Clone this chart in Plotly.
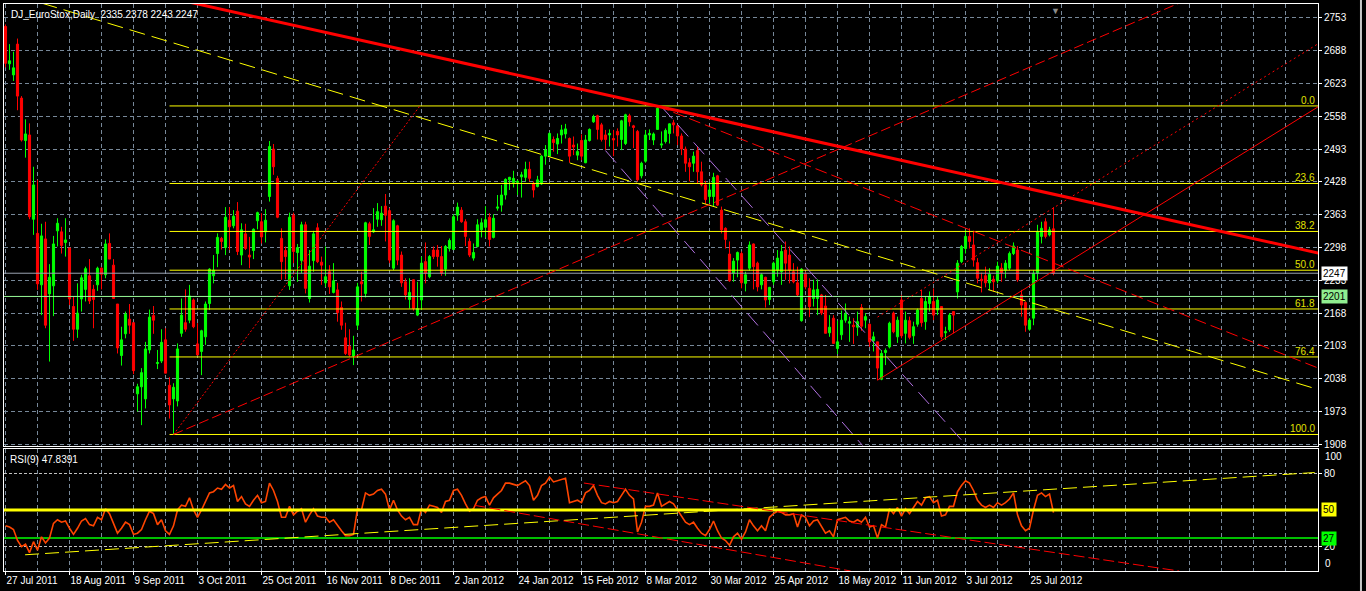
import plotly.graph_objects as go

# 1. daily OHLC (DJ_EuroStox, 27 Jul 2011 .. 26 Jul 2012), one entry per bar
open_ = [2736, 2662, 2640, 2701, 2594, 2510, 2521, 2354, 2326, 2224,
         2315, 2206, 2222, 2331, 2329, 2308, 2297, 2181, 2136, 2196,
         2215, 2242, 2215, 2224, 2257, 2244, 2306, 2263, 2186, 2084,
         2127, 2156, 2149, 2008, 2022, 1998, 2095, 2163, 2068, 2073,
         2115, 2025, 1998, 1994, 2128, 2149, 2154, 2194, 2107, 2092,
         2121, 2187, 2242, 2286, 2316, 2298, 2352, 2341, 2370, 2283,
         2325, 2283, 2292, 2351, 2349, 2329, 2399, 2493, 2435, 2316,
         2292, 2222, 2362, 2288, 2272, 2343, 2197, 2272, 2337, 2269,
         2228, 2250, 2209, 2214, 2179, 2119, 2102, 2083, 2144, 2230,
         2207, 2345, 2329, 2354, 2353, 2380, 2371, 2257, 2341, 2283,
         2230, 2195, 2234, 2164, 2194, 2270, 2240, 2293, 2293, 2280,
         2255, 2296, 2294, 2362, 2372, 2349, 2310, 2277, 2300, 2333,
         2338, 2358, 2318, 2376, 2382, 2402, 2432, 2427, 2427, 2438,
         2437, 2453, 2425, 2419, 2424, 2479, 2479, 2512, 2503, 2521,
         2523, 2514, 2501, 2481, 2510, 2466, 2510, 2547, 2559, 2541,
         2521, 2521, 2514, 2528, 2512, 2504, 2559, 2539, 2528, 2440,
         2469, 2521, 2511, 2532, 2501, 2508, 2524, 2545, 2539, 2519,
         2493, 2466, 2465, 2490, 2448, 2422, 2399, 2399, 2440, 2372,
         2336, 2285, 2247, 2273, 2286, 2227, 2257, 2305, 2267, 2224,
         2239, 2195, 2230, 2253, 2250, 2293, 2283, 2250, 2228, 2153,
         2245, 2217, 2197, 2197, 2204, 2182, 2129, 2158, 2098, 2125,
         2154, 2148, 2144, 2140, 2179, 2154, 2146, 2113, 2111, 2037,
         2090, 2101, 2168, 2121, 2194, 2128, 2153, 2123, 2146, 2197,
         2151, 2187, 2191, 2174, 2181, 2129, 2135, 2171, 2210, 2270,
         2296, 2320, 2303, 2268, 2235, 2242, 2228, 2235, 2232, 2257,
         2253, 2257, 2286, 2293, 2204, 2189, 2136, 2158, 2247, 2320,
         2349, 2323, 2335]
high = [2740, 2701, 2686, 2712, 2598, 2552, 2544, 2458, 2432, 2345,
        2349, 2265, 2321, 2356, 2339, 2356, 2298, 2201, 2227, 2244,
        2260, 2275, 2224, 2260, 2259, 2314, 2326, 2275, 2186, 2141,
        2171, 2186, 2149, 2028, 2059, 2111, 2175, 2182, 2095, 2136,
        2138, 2041, 2029, 2108, 2197, 2215, 2224, 2197, 2148, 2135,
        2191, 2257, 2283, 2326, 2319, 2378, 2378, 2372, 2388, 2346,
        2345, 2319, 2336, 2369, 2366, 2374, 2509, 2503, 2440, 2336,
        2300, 2367, 2367, 2305, 2349, 2349, 2293, 2331, 2346, 2280,
        2300, 2263, 2267, 2228, 2191, 2149, 2136, 2123, 2228, 2250,
        2349, 2349, 2376, 2386, 2380, 2404, 2376, 2354, 2343, 2290,
        2237, 2237, 2235, 2230, 2280, 2308, 2283, 2300, 2303, 2301,
        2303, 2316, 2364, 2387, 2378, 2354, 2316, 2306, 2354, 2356,
        2380, 2366, 2364, 2402, 2422, 2435, 2438, 2450, 2432, 2448,
        2468, 2468, 2429, 2440, 2481, 2501, 2526, 2518, 2524, 2541,
        2543, 2516, 2518, 2504, 2522, 2521, 2534, 2561, 2561, 2545,
        2531, 2532, 2531, 2534, 2551, 2563, 2563, 2541, 2531, 2468,
        2531, 2532, 2526, 2578, 2528, 2534, 2544, 2551, 2541, 2524,
        2498, 2475, 2488, 2498, 2468, 2430, 2427, 2446, 2442, 2379,
        2338, 2310, 2277, 2290, 2290, 2250, 2310, 2306, 2270, 2247,
        2240, 2220, 2270, 2293, 2303, 2310, 2300, 2267, 2260, 2257,
        2250, 2237, 2234, 2235, 2206, 2204, 2164, 2164, 2153, 2173,
        2187, 2161, 2158, 2171, 2186, 2168, 2148, 2131, 2111, 2095,
        2098, 2151, 2171, 2161, 2204, 2171, 2161, 2151, 2177, 2214,
        2201, 2211, 2217, 2201, 2182, 2141, 2168, 2171, 2273, 2303,
        2333, 2336, 2331, 2277, 2248, 2260, 2257, 2242, 2270, 2267,
        2273, 2290, 2308, 2301, 2214, 2191, 2158, 2253, 2343, 2349,
        2356, 2339, 2378]
low = [2655, 2650, 2628, 2570, 2508, 2476, 2354, 2323, 2214, 2164,
       2138, 2072, 2162, 2300, 2286, 2280, 2184, 2113, 2119, 2171,
       2191, 2186, 2138, 2212, 2215, 2237, 2275, 2197, 2088, 2064,
       2118, 2127, 2047, 1973, 1946, 1979, 2088, 2127, 2057, 2069,
       2049, 1959, 1927, 1983, 2121, 2131, 2148, 2138, 2085, 2045,
       2105, 2174, 2227, 2259, 2294, 2283, 2293, 2336, 2283, 2263,
       2293, 2257, 2275, 2334, 2306, 2308, 2389, 2442, 2356, 2234,
       2235, 2214, 2267, 2230, 2247, 2207, 2189, 2250, 2267, 2224,
       2220, 2206, 2207, 2151, 2135, 2085, 2082, 2065, 2135, 2191,
       2199, 2303, 2327, 2339, 2341, 2310, 2267, 2253, 2263, 2220,
       2195, 2177, 2173, 2162, 2174, 2227, 2237, 2275, 2260, 2242,
       2242, 2290, 2293, 2351, 2347, 2301, 2279, 2272, 2298, 2318,
       2318, 2300, 2316, 2371, 2369, 2393, 2412, 2417, 2402, 2397,
       2429, 2429, 2397, 2417, 2422, 2462, 2479, 2488, 2483, 2504,
       2514, 2466, 2481, 2471, 2471, 2465, 2508, 2545, 2512, 2508,
       2491, 2498, 2479, 2498, 2491, 2501, 2538, 2495, 2429, 2435,
       2466, 2511, 2501, 2531, 2495, 2504, 2504, 2524, 2501, 2481,
       2448, 2429, 2448, 2425, 2419, 2384, 2386, 2380, 2380, 2326,
       2296, 2230, 2230, 2239, 2217, 2211, 2252, 2215, 2211, 2215,
       2179, 2184, 2224, 2240, 2224, 2234, 2227, 2227, 2201, 2151,
       2215, 2160, 2181, 2164, 2164, 2128, 2121, 2108, 2087, 2115,
       2149, 2111, 2107, 2123, 2133, 2138, 2101, 2092, 2035, 2035,
       2065, 2098, 2128, 2109, 2118, 2108, 2116, 2107, 2141, 2141,
       2135, 2171, 2154, 2164, 2116, 2115, 2131, 2128, 2197, 2267,
       2286, 2296, 2260, 2227, 2209, 2219, 2214, 2211, 2227, 2230,
       2237, 2253, 2283, 2230, 2161, 2131, 2133, 2144, 2234, 2306,
       2316, 2320, 2243]
close = [2663, 2668, 2654, 2598, 2511, 2523, 2359, 2422, 2226, 2321,
         2144, 2239, 2305, 2346, 2302, 2313, 2196, 2136, 2168, 2238,
         2256, 2192, 2195, 2257, 2245, 2305, 2275, 2197, 2099, 2115,
         2166, 2144, 2054, 2022, 2050, 2097, 2160, 2154, 2070, 2110,
         2049, 1986, 2021, 2097, 2164, 2136, 2202, 2141, 2085, 2133,
         2186, 2255, 2253, 2318, 2310, 2358, 2339, 2360, 2290, 2333,
         2296, 2279, 2334, 2367, 2319, 2352, 2498, 2458, 2358, 2270,
         2280, 2358, 2290, 2298, 2343, 2217, 2261, 2325, 2270, 2263,
         2240, 2220, 2232, 2169, 2144, 2088, 2085, 2095, 2220, 2226,
         2347, 2320, 2333, 2369, 2366, 2362, 2273, 2351, 2273, 2228,
         2204, 2209, 2177, 2177, 2267, 2247, 2280, 2280, 2280, 2247,
         2300, 2312, 2359, 2378, 2349, 2320, 2283, 2288, 2343, 2347,
         2353, 2314, 2356, 2378, 2402, 2433, 2437, 2435, 2429, 2442,
         2453, 2435, 2412, 2432, 2479, 2491, 2524, 2506, 2514, 2531,
         2533, 2479, 2497, 2488, 2479, 2511, 2532, 2557, 2532, 2512,
         2512, 2524, 2511, 2521, 2549, 2561, 2547, 2536, 2432, 2465,
         2521, 2524, 2523, 2574, 2503, 2530, 2543, 2541, 2519, 2493,
         2465, 2458, 2479, 2448, 2422, 2393, 2412, 2437, 2382, 2333,
         2314, 2232, 2271, 2288, 2228, 2244, 2303, 2260, 2220, 2244,
         2194, 2219, 2267, 2277, 2290, 2267, 2253, 2230, 2204, 2255,
         2220, 2181, 2214, 2215, 2168, 2128, 2140, 2108, 2111, 2154,
         2166, 2151, 2141, 2151, 2142, 2161, 2111, 2121, 2059, 2088,
         2094, 2148, 2131, 2154, 2123, 2154, 2120, 2141, 2174, 2149,
         2191, 2201, 2164, 2194, 2121, 2131, 2164, 2164, 2267, 2300,
         2320, 2310, 2273, 2237, 2232, 2228, 2245, 2230, 2261, 2248,
         2267, 2286, 2301, 2234, 2184, 2144, 2154, 2247, 2329, 2336,
         2320, 2333, 2247]

# RSI(9), one value per bar
rsi = [37, 36, 34, 25, 20, 22, 15, 24, 17, 28,
       23, 27, 39, 42, 40, 41, 35, 30, 35, 41,
       43, 38, 37, 44, 42, 51, 47, 39, 31, 35,
       40, 38, 30, 31, 34, 42, 49, 47, 38, 42,
       33, 30, 37, 50, 54, 53, 60, 50, 44, 50,
       57, 64, 65, 68, 67, 71, 68, 70, 57, 61,
       55, 53, 58, 62, 56, 57, 72, 66, 57, 44,
       44, 53, 46, 49, 51, 40, 46, 51, 45, 44,
       44, 40, 42, 37, 33, 29, 29, 30, 51, 50,
       64, 62, 63, 66, 67, 63, 50, 58, 50, 45,
       42, 44, 38, 38, 51, 48, 54, 53, 52, 48,
       57, 58, 66, 67, 62, 55, 49, 51, 58, 60,
       61, 54, 60, 63, 66, 72, 72, 71, 70, 72,
       74, 70, 58, 62, 70, 72, 77, 73, 74, 75,
       76, 56, 57, 58, 56, 64, 66, 70, 62, 56,
       55, 57, 56, 57, 62, 67, 62, 59, 32, 40,
       53, 53, 54, 64, 53, 55, 57, 55, 50, 44,
       40, 38, 40, 35, 31, 29, 34, 41, 33, 27,
       25, 21, 28, 31, 26, 32, 42, 37, 33, 37,
       33, 44, 47, 49, 48, 46, 46, 47, 36, 46,
       44, 37, 41, 42, 36, 31, 33, 28, 42, 43,
       44, 41, 40, 42, 40, 44, 36, 37, 27, 38,
       36, 51, 47, 52, 45, 51, 47, 52, 57, 54,
       60, 61, 56, 58, 45, 46, 53, 53, 65, 70,
       74, 72, 66, 58, 54, 52, 54, 52, 56, 54,
       56, 59, 64, 46, 37, 33, 35, 50, 62, 64,
       61, 63, 47.84]

bars = list(range(len(close)))

# 2. axis labels
date_labels = ['27 Jul 2011', '18 Aug 2011', '9 Sep 2011', '3 Oct 2011', '25 Oct 2011',
               '16 Nov 2011', '8 Dec 2011', '2 Jan 2012', '24 Jan 2012', '15 Feb 2012',
               '8 Mar 2012', '30 Mar 2012', '25 Apr 2012', '18 May 2012', '11 Jun 2012',
               '3 Jul 2012', '25 Jul 2012']
label_bars = [0, 16, 32, 48, 64, 80, 96, 112, 128, 144, 160, 176, 192, 208, 224, 240, 256]
price_ticks = [1908, 1973, 2038, 2103, 2168, 2233, 2298, 2363, 2428, 2493, 2558, 2623, 2688, 2753]

# 3. drawn objects (bar index, price)
trend_red = [(40, 2794.7), (328.2, 2287)]
trend_yellow = [(9, 2782.4), (328.2, 2016.5)]
fan_from_low = [(42, 1927.5), (300, 2804.7)]
fan_from_high = [(163, 2578.5), (328.2, 2059)]
channel_main = [(218, 2035), (328.2, 2577)]
channel_dot = [(218, 2160), (328.2, 2702)]
purple_1 = [(150, 2490), (215, 1899)]
purple_2 = [(164, 2577), (241, 1899)]
fib_start, fib_high, fib_low = 41, 2578.5, 1927.5
fib_levels = [0.0, 23.6, 38.2, 50.0, 61.8, 76.4, 100.0]
bid_price, hline_price = 2247, 2201

# RSI window objects (bar index, RSI)
rsi_trend_yellow = [(4.9, 13.3), (327.3, 80.7)]
rsi_trend_red_a = [(144.6, 72.1), (293.4, 0)]
rsi_trend_red_b = [(117.3, 53.8), (211.3, 0)]
rsi_levels = [50, 27]

X_RANGE = [-0.375, 328.125]
grid = '#778899'

fig = go.Figure()

fig.add_trace(go.Candlestick(x=bars, open=open_, high=high, low=low, close=close,
                             increasing=dict(fillcolor='#00ff00', line=dict(color='#00ff00', width=1)),
                             decreasing=dict(fillcolor='#ff0000', line=dict(color='#ff0000', width=1)),
                             whiskerwidth=0, hoverinfo='skip', showlegend=False))


def add_line(pts, color, width=1, dash='solid', rsi_win=False):
    fig.add_trace(go.Scatter(x=[p[0] for p in pts], y=[p[1] for p in pts], mode='lines',
                             line=dict(color=color, width=width, dash=dash),
                             xaxis='x2' if rsi_win else 'x', yaxis='y2' if rsi_win else 'y',
                             hoverinfo='skip', showlegend=False))


# 4. main window objects
for lvl in fib_levels:
    p = fib_high - (fib_high - fib_low) * lvl / 100
    add_line([(fib_start, p), (X_RANGE[1], p)], '#ffff00', 1)
add_line([(X_RANGE[0], bid_price), (X_RANGE[1], bid_price)], '#9aa3b0', 1)
add_line([(X_RANGE[0], hline_price), (X_RANGE[1], hline_price)], '#98fb98', 1)
add_line([(fib_start + 1, fib_low), (103.6, fib_high)], '#ff0000', 1, '2px,2px')
add_line(trend_yellow, '#ffff00', 1, '16px,7px')
add_line(fan_from_low, '#ff0000', 1, '10px,4px')
add_line(fan_from_high, '#ff0000', 1, '12px,5px')
add_line(channel_main, '#ff0000', 1)
add_line(channel_dot, '#ff0000', 1, '2px,3px')
add_line(purple_1, '#b070e0', 1, '16px,8px')
add_line(purple_2, '#b070e0', 1, '16px,8px')
add_line(trend_red, '#ff0000', 3)

# 5. RSI window
add_line([(X_RANGE[0], rsi_levels[1]), (X_RANGE[1], rsi_levels[1])], '#00ff00', 1.5, rsi_win=True)
fig.add_trace(go.Scatter(x=bars, y=rsi, mode='lines', line=dict(color='#ff4500', width=1.6),
                         xaxis='x2', yaxis='y2', hoverinfo='skip', showlegend=False))
add_line([(X_RANGE[0], rsi_levels[0]), (X_RANGE[1], rsi_levels[0])], '#ffff00', 3, rsi_win=True)
add_line(rsi_trend_yellow, '#ffff00', 1, '14px,6px', rsi_win=True)
add_line(rsi_trend_red_a, '#ff0000', 1, '11px,4px', rsi_win=True)
add_line(rsi_trend_red_b, '#ff0000', 1, '11px,4px', rsi_win=True)

# 6. texts
ann = []
ann.append(dict(text='DJ_EuroStox,Daily\u00a0\u00a02335 2378 2243 2247', xref='paper', yref='paper', x=0, y=1,
                xanchor='left', yanchor='top', xshift=5, yshift=-3, showarrow=False,
                font=dict(color='white', size=10)))
ann.append(dict(text='RSI(9) 47.8391', xref='paper', yref='y2 domain', x=0, y=1,
                xanchor='left', yanchor='top', xshift=4, yshift=-3, showarrow=False,
                font=dict(color='white', size=10)))
for lvl in fib_levels:
    p = fib_high - (fib_high - fib_low) * lvl / 100
    ann.append(dict(text=f'{lvl:.1f}', xref='x', yref='y', x=X_RANGE[1], y=p, xanchor='right',
                    yanchor='bottom', xshift=-1, yshift=-2, showarrow=False,
                    font=dict(color='#e0e000', size=10)))
for txt, yv, yr, bg in [(str(bid_price), bid_price, 'y', 'white'),
                        (str(hline_price), hline_price, 'y', '#90ee90'),
                        ('50', 50, 'y2', '#ffff00'), ('27', 27, 'y2', '#00ff00')]:
    ann.append(dict(text=txt, xref='paper', yref=yr, x=1, y=yv, xanchor='left', yanchor='middle',
                    xshift=3, showarrow=False, bgcolor=bg, borderpad=1,
                    font=dict(color='black', size=10)))
ann.append(dict(text='100', xref='paper', yref='y2 domain', x=1, y=1, xanchor='left', yanchor='top',
                xshift=5, showarrow=False, font=dict(color='white', size=10)))
ann.append(dict(text='0', xref='paper', yref='y2 domain', x=1, y=0, xanchor='left', yanchor='bottom',
                xshift=5, showarrow=False, font=dict(color='white', size=10)))
ann.append(dict(text='\u25bc', xref='x', yref='paper', x=262.4, y=1, yanchor='top', showarrow=False,
                font=dict(color='#8c8c8c', size=9)))

fig.update_layout(
    width=1366, height=591,
    paper_bgcolor='black', plot_bgcolor='black',
    margin=dict(l=4, r=48, t=4, b=20, autoexpand=False),
    font=dict(family='Liberation Sans', size=10, color='white'),
    showlegend=False, boxgap=0.25,
    annotations=ann,
    # window frame strip on the right edge
    shapes=[dict(type='line', xref='paper', yref='paper', x0=1.0327, x1=1.0327, y0=-0.04, y1=1.01,
                 line=dict(color='#c8c8c8', width=2))],
    xaxis=dict(domain=[0, 1], anchor='y', range=X_RANGE, tickmode='linear', tick0=0, dtick=8,
               showticklabels=False, ticks='', showgrid=True, gridcolor=grid, griddash='4px,3px',
               zeroline=False, showline=True, mirror=True, linecolor='white', automargin=False,
               rangeslider=dict(visible=False)),
    yaxis=dict(domain=[0.2213, 1], anchor='x', range=[1905.6, 2780.5], side='right',
               tickmode='array', tickvals=price_ticks, ticks='outside', ticklen=3, tickcolor='white',
               showgrid=True, gridcolor=grid, griddash='4px,3px', zeroline=False, automargin=False,
               showline=True, mirror=True, linecolor='white', tickfont=dict(size=10, color='white')),
    xaxis2=dict(domain=[0, 1], anchor='y2', matches='x', range=X_RANGE, tickmode='array',
                tickvals=label_bars, ticktext=date_labels, ticks='outside', ticklen=3, tickcolor='white',
                tickangle=0, ticklabelposition='outside right', tickfont=dict(size=10, color='white'),
                showgrid=True, gridcolor=grid, griddash='4px,3px', automargin=False,
                minor=dict(tickmode='linear', tick0=0, dtick=8, showgrid=True, gridcolor=grid,
                           griddash='4px,3px', ticks=''),
                zeroline=False, showline=True, mirror=True, linecolor='white'),
    yaxis2=dict(domain=[0, 0.2152], anchor='x2', range=[0, 100], side='right', tickmode='array',
                tickvals=[20, 80], ticks='outside', ticklen=3, tickcolor='white', automargin=False,
                showgrid=True, gridcolor='#c0c0c0', griddash='3px,2px', zeroline=False,
                showline=True, mirror=True, linecolor='white', tickfont=dict(size=10, color='white')),
)

# page body margin would shift the chart by 8px
fig.write_html('out.html', config={'displayModeBar': False},
               post_script="document.body.style.margin='0px';document.body.style.overflow='hidden';")
